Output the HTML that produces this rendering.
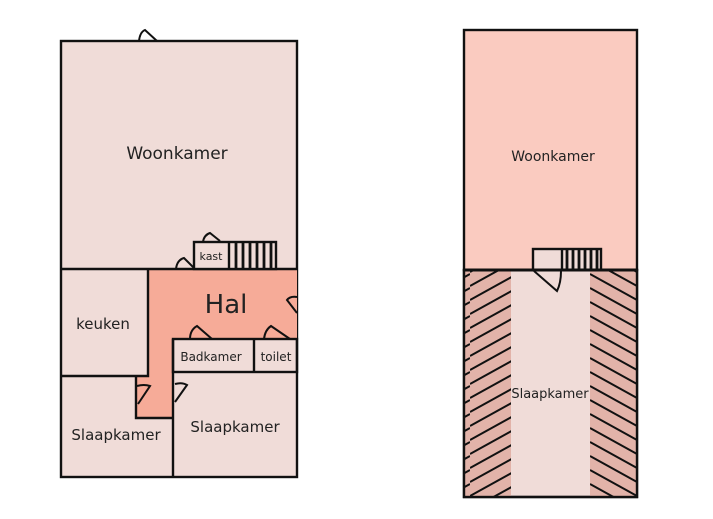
<!DOCTYPE html>
<html><head><meta charset="utf-8"><style>
html,body{margin:0;padding:0;background:#fff;}
svg{display:block}
text{font-family:"Comic Sans MS","DejaVu Sans",sans-serif;fill:#222;}
</style></head><body>
<svg width="713" height="519" viewBox="0 0 713 519" xmlns="http://www.w3.org/2000/svg">
<defs>
<pattern id="hl" patternUnits="userSpaceOnUse" width="47" height="14">
<rect width="47" height="14" fill="#e2b3a9"/>
<line x1="0" y1="20" x2="47" y2="-6" stroke="#111" stroke-width="2"/>
<line x1="0" y1="34" x2="47" y2="8" stroke="#111" stroke-width="2"/>
<line x1="0" y1="6" x2="47" y2="-20" stroke="#111" stroke-width="2"/>
</pattern>
<pattern id="hr" patternUnits="userSpaceOnUse" x="590" width="47" height="14">
<rect width="47" height="14" fill="#e2b3a9"/>
<line x1="0" y1="-6" x2="47" y2="20" stroke="#111" stroke-width="2"/>
<line x1="0" y1="8" x2="47" y2="34" stroke="#111" stroke-width="2"/>
<line x1="0" y1="-20" x2="47" y2="6" stroke="#111" stroke-width="2"/>
</pattern>
</defs>
<g stroke="#111" stroke-width="2.4" fill="none">
<rect x="61" y="41" width="236" height="436" fill="#f0dcd8"/>
<polygon points="148,269 297,269 297,339 173,339 173,418 136,418 136,376 148,376" fill="#f6ab98" stroke="none"/>
<line x1="61" y1="269" x2="297" y2="269"/>
<polyline points="148,269 148,376 61,376"/>
<polyline points="136,376 136,418 172,418"/>
<line x1="173" y1="339" x2="173" y2="477"/>
<rect x="173" y="339" width="124" height="33"/>
<line x1="254" y1="339" x2="254" y2="372"/>
<rect x="194" y="242" width="82" height="27" fill="#f0dcd8"/>
<line x1="229" y1="242" x2="229" y2="269"/>
<g stroke-width="2.8">
<line x1="236" y1="242" x2="236" y2="269"/><line x1="243" y1="242" x2="243" y2="269"/>
<line x1="250" y1="242" x2="250" y2="269"/><line x1="257" y1="242" x2="257" y2="269"/>
<line x1="264" y1="242" x2="264" y2="269"/><line x1="271" y1="242" x2="271" y2="269"/>
</g>
<path d="M139 41 Q140 32 145 30 L157 41" stroke-width="2"/>
<path d="M176 269 Q177 260 184 258 L194 268" stroke-width="2"/>
<path d="M203 242 Q204 235 210 233 L220 241" stroke-width="2"/>
<path d="M297 297 Q290 296 287 300 L297 313" stroke-width="2"/>
<path d="M190 339 Q190 330 197 326 L212 339" stroke-width="2"/>
<path d="M264 339 Q265 330 271 326 L290 339" stroke-width="2"/>
<path d="M137 386 Q144 384 150 386 L138 404" stroke-width="2"/>
<path d="M175 384 Q182 382 187 385 L175 402" stroke-width="2"/>
<rect x="464" y="30" width="173" height="240" fill="#facbc0"/>
<rect x="464" y="270" width="173" height="227" fill="#f0dcd8"/>
<rect x="465" y="271" width="46" height="225" fill="url(#hl)" stroke="none"/>
<rect x="590" y="271" width="46" height="225" fill="url(#hr)" stroke="none"/>
<rect x="464" y="270" width="173" height="227"/>
<rect x="533" y="249" width="68" height="21" fill="#f0dcd8"/>
<line x1="562" y1="249" x2="562" y2="270"/>
<g stroke-width="2.8">
<line x1="567" y1="249" x2="567" y2="270"/><line x1="573" y1="249" x2="573" y2="270"/>
<line x1="579" y1="249" x2="579" y2="270"/><line x1="585" y1="249" x2="585" y2="270"/>
<line x1="591" y1="249" x2="591" y2="270"/><line x1="597" y1="249" x2="597" y2="270"/>
</g>
<path d="M534 271 L557 291 Q561 283 561 271" stroke-width="2"/>
<line x1="464" y1="270" x2="637" y2="270" stroke-width="3"/>
</g>
<text x="177" y="159" font-size="17" text-anchor="middle">Woonkamer</text>
<text x="211" y="260" font-size="11" text-anchor="middle">kast</text>
<text x="226" y="313" font-size="26" text-anchor="middle">Hal</text>
<text x="103" y="329" font-size="15" text-anchor="middle">keuken</text>
<text x="211" y="361" font-size="12" text-anchor="middle">Badkamer</text>
<text x="276" y="361" font-size="12" text-anchor="middle">toilet</text>
<text x="116" y="440" font-size="15" text-anchor="middle">Slaapkamer</text>
<text x="235" y="432" font-size="15" text-anchor="middle">Slaapkamer</text>
<text x="553" y="161" font-size="14" text-anchor="middle">Woonkamer</text>
<text x="550" y="398" font-size="13" text-anchor="middle">Slaapkamer</text>
</svg>
</body></html>
